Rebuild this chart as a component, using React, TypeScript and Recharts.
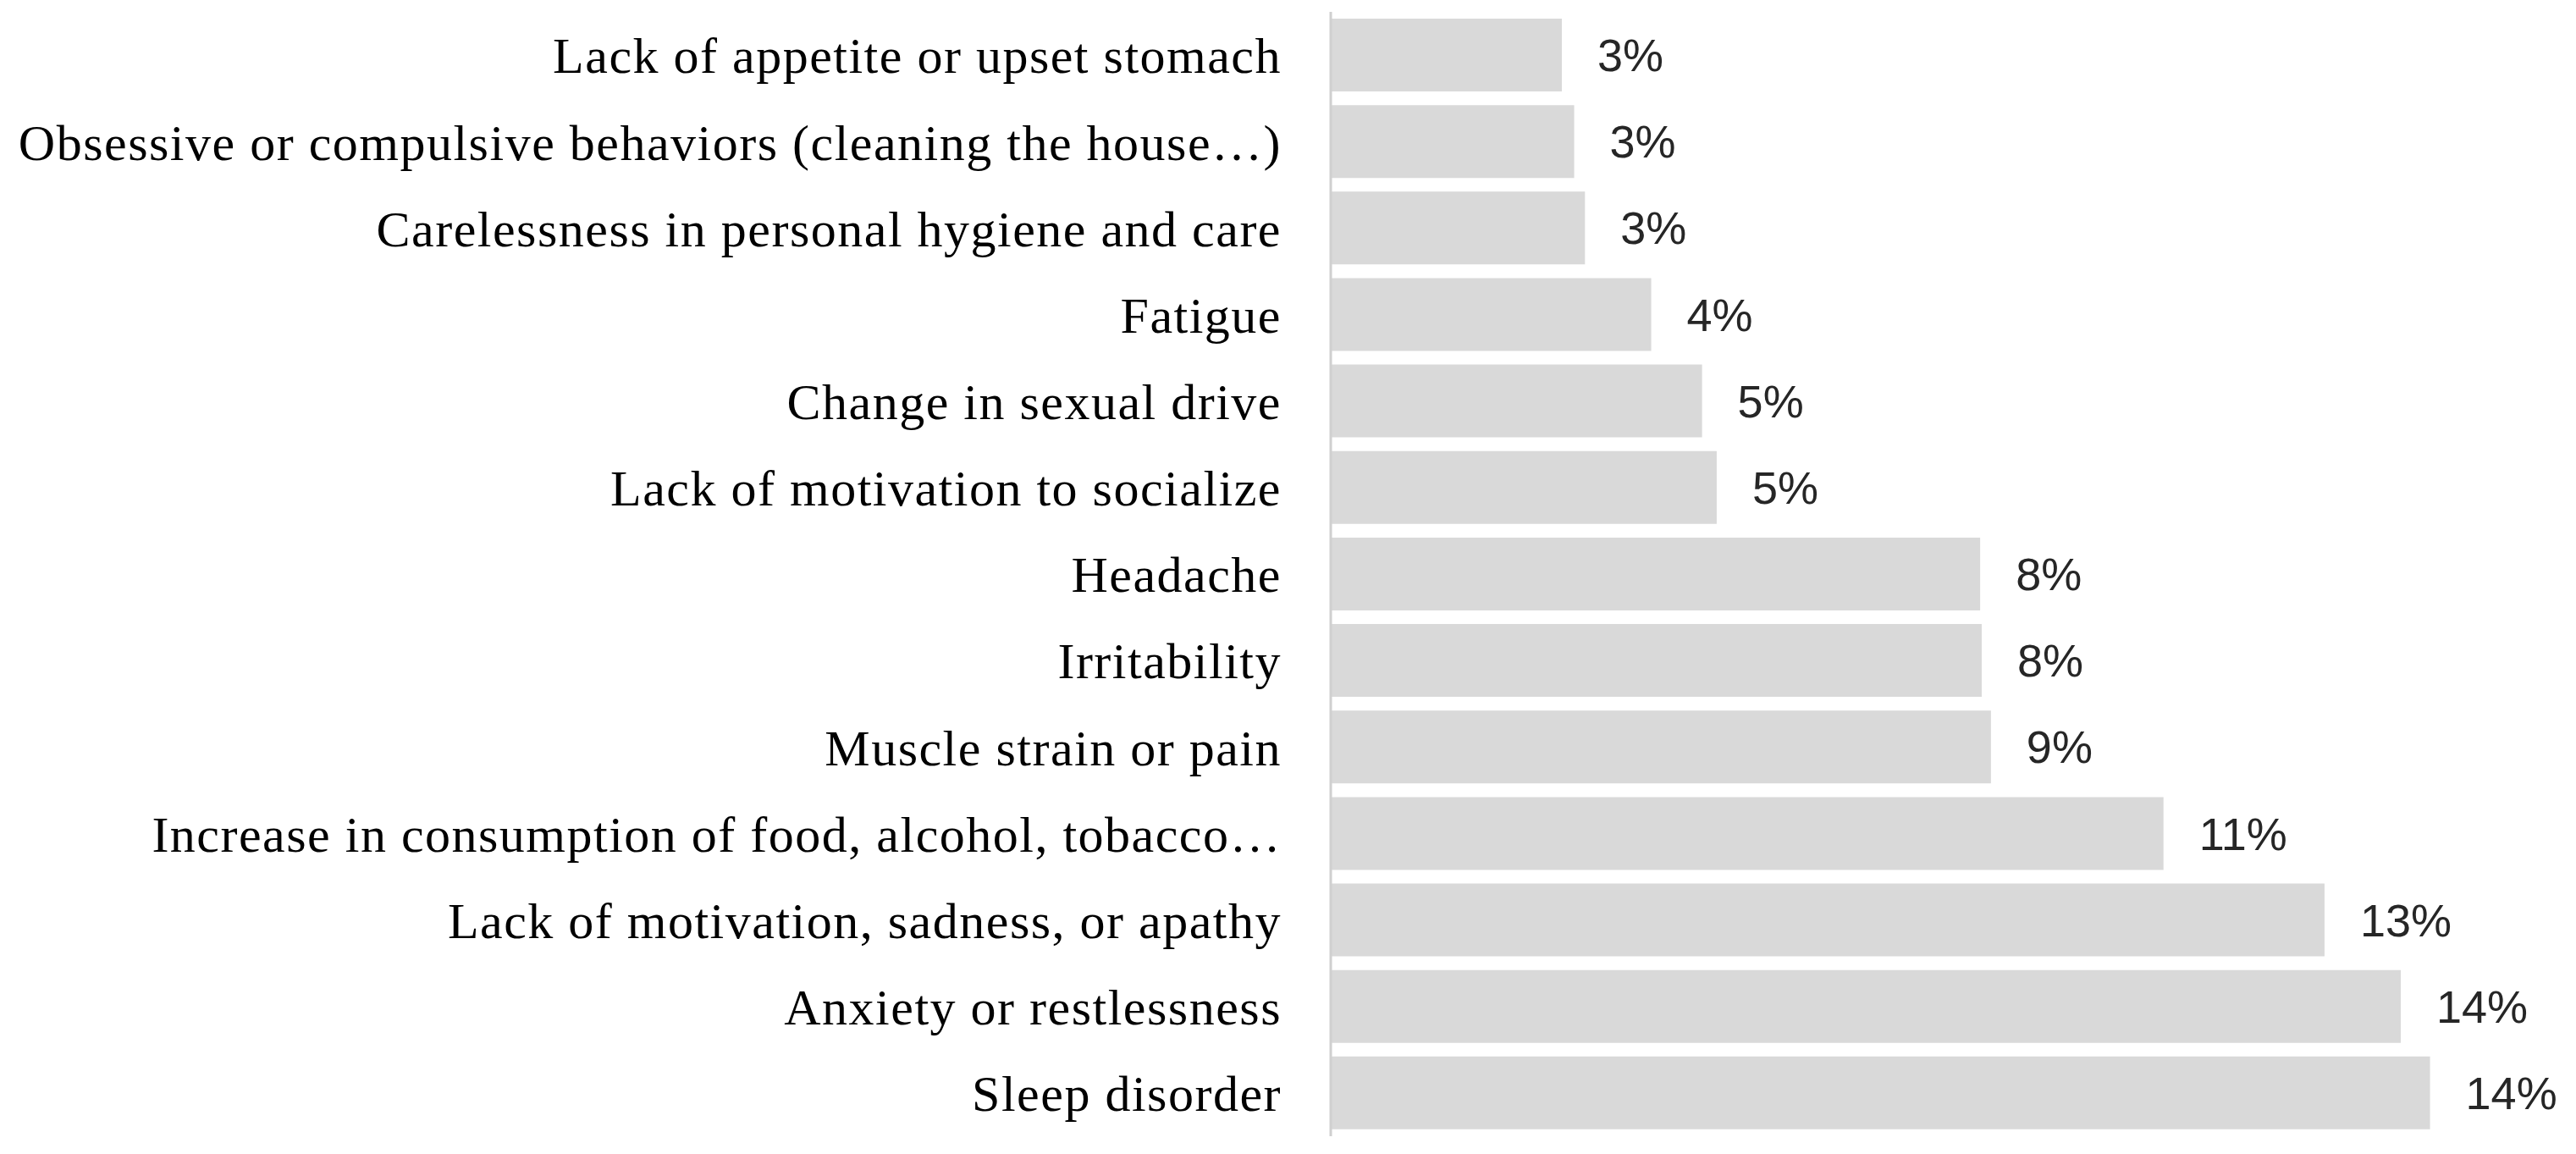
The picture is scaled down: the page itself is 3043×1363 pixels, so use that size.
import React from "react";
import { BarChart, Bar, XAxis, YAxis, LabelList } from "recharts";

const categories: string[] = [
  "Lack of appetite or upset stomach",
  "Obsessive or compulsive behaviors (cleaning the house…)",
  "Carelessness in personal hygiene and care ",
  "Fatigue",
  "Change in sexual drive",
  "Lack of motivation to socialize",
  "Headache",
  "Irritability",
  "Muscle strain or pain",
  "Increase in consumption of food, alcohol, tobacco…",
  "Lack of motivation, sadness, or apathy",
  "Anxiety or restlessness",
  "Sleep disorder",
];

const percentages: number[] = [3.0, 3.16, 3.3, 4.16, 4.82, 5.01, 8.43, 8.45, 8.57, 10.81, 12.9, 13.89, 14.27];

const data = categories.map((name, i) => ({ name, value: percentages[i] }));

export default function App() {
  return (
    <div style={{ position: "absolute", left: 0, top: 0, background: "#fff" }}>
      <BarChart
        width={3043}
        height={1363}
        data={data}
        layout="vertical"
        margin={{ top: 14, right: 15, bottom: 21, left: 0 }}
        barSize={86}
      >
        <XAxis type="number" domain={[0, 16]} hide />
        <YAxis
          type="category"
          dataKey="name"
          width={1572}
          interval={0}
          tickLine={false}
          tickSize={0}
          tickMargin={58}
          axisLine={{ stroke: "#d0d0d0", strokeWidth: 3 }}
          tick={{ fill: "#000", fontSize: 60, fontFamily: "Liberation Serif", letterSpacing: 1.5 }}
        />
        <Bar dataKey="value" fill="#d9d9d9" isAnimationActive={false}>
          <LabelList
            dataKey="value"
            position="right"
            offset={42}
            formatter={(v: any) => `${Math.round(Number(v))}%`}
            style={{ fill: "#262626", fontSize: 54, fontFamily: "Liberation Sans" }}
          />
        </Bar>
      </BarChart>
    </div>
  );
}
